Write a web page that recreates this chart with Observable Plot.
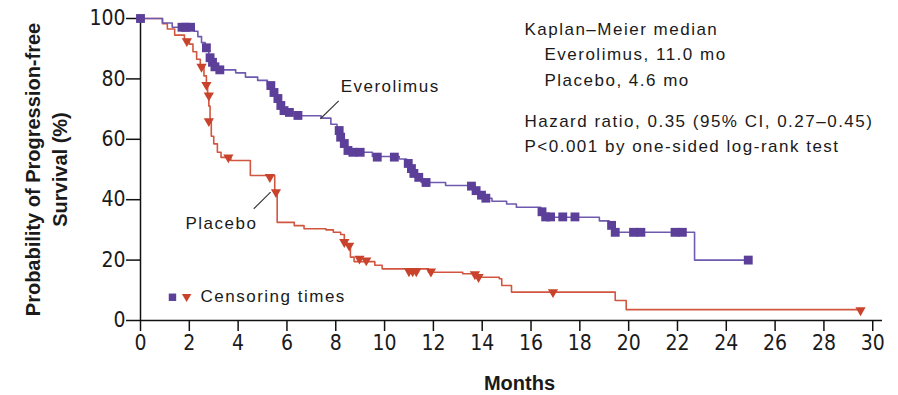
<!DOCTYPE html>
<html><head><meta charset="utf-8">
<script src="https://cdn.jsdelivr.net/npm/d3@7"></script>
<script src="https://cdn.jsdelivr.net/npm/@observablehq/plot@0.6"></script>
<style>
body{margin:0;background:#fff;}
#chart svg{display:block;}
</style></head><body><div id="chart"></div>
<script>
// Everolimus Kaplan–Meier steps (months, % progression-free)
const everolimusMonths = [0,0.9,1.3,2.2,2.35,2.5,2.65,2.8,2.9,3.0,3.2,3.9,4.3,4.8,5.2,5.4,5.5,5.6,5.7,5.85,6.1,6.4,7.4,7.8,8.05,8.15,8.3,8.4,8.5,8.9,9.5,10.6,10.9,11.0,11.15,11.3,11.5,12.5,13.7,13.85,14.0,14.4,15.0,15.4,16.4,16.55,18.8,19.2,19.35,22.7,24.9];
const everolimusSurvival = [100,98.5,97.1,95.8,94,92,90.3,87.5,85.5,84,83,82,80.6,79.5,78,76,74,72.5,70.5,69.3,68.5,67.8,67,65,63.5,61.5,59,57,56.3,55.7,54.3,53.5,52,50.3,48.7,47.4,45.7,44.7,43.5,42,40.5,39.5,38.6,37.5,36,34.2,33,31.5,29.2,20,20];
// Everolimus censoring times
const everolimusCensorMonths = [0,1.7,1.85,2.05,2.7,2.85,2.95,3.05,3.25,5.34,5.47,5.63,5.75,5.88,6.1,6.45,8.14,8.2,8.35,8.5,8.7,9.0,9.7,10.4,10.97,11.1,11.2,11.4,11.7,13.56,13.75,13.97,14.15,16.45,16.6,16.8,17.3,17.8,19.3,19.45,20.2,20.5,21.9,22.2,24.9];
const everolimusCensorSurvival = [100,97.1,97.1,97.1,90.3,87,85.5,84,83,77.8,75.5,73.5,71.2,69.5,68.9,67.9,62.9,60.7,58.6,56.3,55.7,55.7,54.1,54.1,52,50.3,48.7,47.4,45.7,44.5,43,41.5,40.5,36,34.3,34.3,34.3,34.3,31.5,29.2,29.2,29.2,29.2,29.2,20];
// Placebo Kaplan–Meier steps
const placeboMonths = [0,0.9,1.1,1.4,1.8,2.0,2.15,2.3,2.45,2.6,2.7,2.75,2.8,2.85,2.9,3.0,3.15,3.3,3.7,4.5,5.5,5.6,6.3,6.7,7.6,7.9,8.2,8.35,8.45,8.6,8.75,9.6,9.9,11.8,13.2,13.7,14.7,14.8,15.2,19.45,19.9,29.5];
const placeboSurvival = [100,98.3,96.5,94.5,93,91.5,89,86.5,84,81,78,75,71,66,61,58.5,55.7,54,53,48,43,32.5,31.4,30.4,30,29.2,28.5,26.5,25,21,19.5,18.3,17.1,16,15.5,14.3,13.8,11.6,9.4,6.6,3.6,3.6];
// Placebo censoring times
const placeboCensorMonths = [1.9,2.5,2.7,2.8,2.8,3.6,5.3,5.55,8.35,8.55,8.97,9.25,11.0,11.15,11.3,11.9,13.7,13.85,16.9,29.5];
const placeboCensorSurvival = [92.5,84,78,74.5,66,54,47.5,42.5,26,24.8,20.5,19.9,16.3,16.3,16.3,16.2,15.3,14.4,9.4,3.4];

const xTicks = [0,2,4,6,8,10,12,14,16,18,20,22,24,26,28,30];
const yTicks = [0,20,40,60,80,100];
const medianLines = ["Kaplan\u2013Meier median","Everolimus, 11.0 mo","Placebo, 4.6 mo"];
const statLines = ["Hazard ratio, 0.35 (95% CI, 0.27\u20130.45)","P<0.001 by one-sided log-rank test"];

const purple = "#5b3f99", purpleLine = "#6e5aae";
const red = "#c9432c", redLine = "#d2563f";

const toRows = (ms, ss) => ms.map((m, i) => ({month: m, pct: ss[i]}));
const evero = toRows(everolimusMonths, everolimusSurvival);
const everoC = toRows(everolimusCensorMonths, everolimusCensorSurvival);
const placebo = toRows(placeboMonths, placeboSurvival);
const placeboC = toRows(placeboCensorMonths, placeboCensorSurvival);

const bodyFont = "'Liberation Sans', Arial, sans-serif";
const tickFont = "'Liberation Sans Narrow', 'DejaVu Sans Condensed', 'Liberation Sans', sans-serif";

const chart = Plot.plot({
  width: 898, height: 395,
  marginLeft: 140, marginRight: 16, marginTop: 18, marginBottom: 75,
  style: {fontFamily: bodyFont, color: "#1a1a1a", background: "#fff"},
  x: {domain: [0, 30.4]},
  y: {domain: [0, 100]},
  marks: [
    Plot.axisX({ticks: xTicks, tickSize: 11, tickPadding: 4, fontSize: 21, fontFamily: tickFont, label: null, stroke: "#111", strokeWidth: 1.5}),
    Plot.axisY({ticks: yTicks, tickSize: 14, tickPadding: 1, fontSize: 21, fontFamily: tickFont, label: null, stroke: "#111", strokeWidth: 1.5}),
    Plot.ruleY([0], {x1: 0, x2: 30.4, stroke: "#111", strokeWidth: 1.5}),
    Plot.ruleX([0], {y1: 0, y2: 100, stroke: "#111", strokeWidth: 1.5}),
    Plot.line(placebo, {x: "month", y: "pct", curve: "step-after", stroke: redLine, strokeWidth: 1.6}),
    Plot.line(evero, {x: "month", y: "pct", curve: "step-after", stroke: purpleLine, strokeWidth: 1.6}),
    Plot.dot(placeboC, {x: "month", y: "pct", symbol: "triangle", rotate: 180, r: 3.8, fill: red, stroke: "none"}),
    Plot.dot(everoC, {x: "month", y: "pct", symbol: "square", r: 5, fill: purple, stroke: "none"}),
    // leader lines
    Plot.link([0], {x1: 8.12, y1: 72.7, x2: 7.37, y2: 66.8, stroke: "#333", strokeWidth: 1.1}),
    Plot.link([0], {x1: 4.64, y1: 37, x2: 5.33, y2: 42.5, stroke: "#333", strokeWidth: 1.1}),
    // labels
    Plot.text(["Everolimus"], {x: 8.2, y: 77.4, text: d => d, textAnchor: "start", fontSize: 17, fill: "#1a1a1a", ariaDescription: "spaced"}),
    Plot.text(["Placebo"], {x: 1.84, y: 32.2, text: d => d, textAnchor: "start", fontSize: 17, fill: "#1a1a1a", ariaDescription: "spaced"}),
    // censoring legend
    Plot.dot([0], {x: 1.31, y: 7.7, symbol: "square", r: 4.2, fill: purple}),
    Plot.dot([0], {x: 1.89, y: 7.9, symbol: "triangle", rotate: 180, r: 3.5, fill: red}),
    Plot.text(["Censoring times"], {x: 2.46, y: 7.8, text: d => d, textAnchor: "start", fontSize: 17, fill: "#1a1a1a", ariaDescription: "spaced"}),
    // annotations
    Plot.text(medianLines, {x: (d, i) => i === 0 ? 15.73 : 16.55, y: (d, i) => [96.2, 87.9, 79.6][i], text: d => d, textAnchor: "start", fontSize: 17, fill: "#1a1a1a", ariaDescription: "spaced"}),
    Plot.text(statLines, {x: 15.73, y: (d, i) => [65.8, 57.5][i], text: d => d, textAnchor: "start", fontSize: 17, fill: "#1a1a1a", ariaDescription: "spaced"}),
    // axis titles
    Plot.text(["Probability of Progression-free\nSurvival (%)"], {frameAnchor: "left", dx: -96, dy: 0, rotate: -90, text: d => d, textAnchor: "middle", lineAnchor: "middle", lineHeight: 1.35, fontSize: 20, fontWeight: "bold", fill: "#1a1a1a"}),
    Plot.text(["Months"], {frameAnchor: "bottom", dx: 8, dy: 63, text: d => d, fontSize: 20, fontWeight: "bold", fill: "#1a1a1a", lineAnchor: "middle"})
  ]
});
d3.select(chart).selectAll('g[aria-description="spaced"] text').style("letter-spacing", "1.5px");
document.getElementById("chart").appendChild(chart);
</script></body></html>
